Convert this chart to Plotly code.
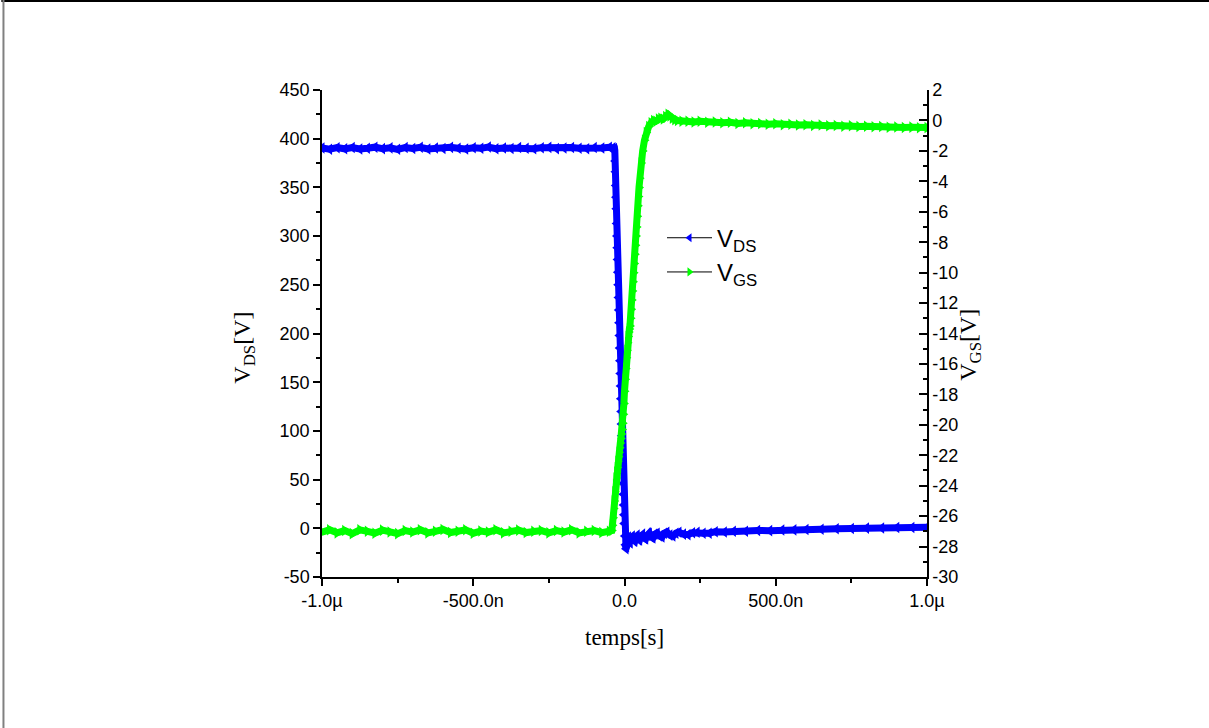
import plotly.graph_objects as go

# ---- data (time in ns) ----
t_vds = [-1000, -975, -950, -925, -900, -875, -850, -825, -800, -775, -750, -725, -700, -675, -650,
         -625, -600, -575, -550, -525, -500, -475, -450, -425, -400, -375, -350, -325, -300, -275,
         -250, -225, -200, -175, -150, -125, -100, -75, -50, -38, -33,
         -32, -31, -30, -29, -28, -27, -26, -25, -24, -23, -22, -21, -20, -19, -18, -17, -16, -15,
         -14, -13, -12, -11, -10, -9, -8, -7, -6, -5, -4, -3, -2, -1,
         1, 3, 5, 7, 10, 13, 16, 19, 22, 26, 30,
         34, 38, 42, 46, 50, 55, 60, 65, 70, 76, 82, 88, 94, 100, 108, 116, 124, 132, 140, 150, 160,
         170, 180, 195, 210, 225, 240, 260, 280, 300, 330, 360, 400, 440, 480, 520, 560, 600, 650,
         700, 750, 800, 850, 900, 950, 1000]
v_ds = [390.5, 389.2, 390.8, 389.6, 391.0, 389.4, 390.2, 391.3, 389.8, 390.6, 389.1, 390.9, 390.0,
        391.2, 389.5, 390.4, 389.9, 391.1, 390.3, 389.4, 390.7, 390.1, 391.4, 389.7, 390.5, 389.9,
        391.0, 390.2, 389.6, 390.8, 391.1, 389.8, 390.4, 391.0, 390.1, 389.7, 390.9, 390.5, 391.2,
        390.6, 390.0,
        388, 377, 366, 352, 340, 328, 313, 300, 288, 276, 263, 250, 237, 224, 211, 198, 185, 172,
        159, 146, 133, 120, 107, 95, 82, 70, 58, 46, 35, 24, 14, 5,
        -8, -17, -21, -19, -13, -9, -14, -15, -10, -8, -12, -13, -9, -7, -11, -12, -8, -6, -10, -11,
        -7, -5, -9, -10, -6, -5, -8, -9, -5, -4, -7, -8, -5, -4, -6, -6.5, -4.5, -4, -5, -5, -3.5,
        -3.8, -3, -3, -2.2, -2.4, -1.7, -1.6, -1.2, -1.0, -0.5, -0.3, 0.2, 0.3, 0.8, 0.9, 1.2]

t_vgs = [-1000, -975, -950, -925, -900, -875, -850, -825, -800, -775, -750, -725, -700, -675, -650,
         -625, -600, -575, -550, -525, -500, -475, -450, -425, -400, -375, -350, -325, -300, -275,
         -250, -225, -200, -175, -150, -125, -100, -75, -50, -42, -40, -38, -36, -34, -32, -30, -28,
         -26, -24, -22, -20, -18, -16, -14, -12, -10, -8, -6, -4, -2, 0, 2, 4, 6, 8, 10, 12, 14,
         16, 18, 20, 22, 24, 26, 28, 30, 32, 34, 36, 38, 40, 42, 44, 46, 48, 50, 55, 60, 66, 72,
         80, 88, 96, 104, 112, 120, 128, 136, 144, 150, 158, 166, 175, 190, 210, 230, 250, 275,
         300, 325, 350, 375, 400, 425, 450, 475, 500, 525, 550, 575, 600, 625, 650, 675, 700, 725,
         750, 775, 800, 825, 850, 875, 900, 925, 950, 975, 1000]
v_gs = [-27.05, -26.9, -27.1, -26.95, -27.15, -26.9, -27.0, -27.12, -26.92, -27.05, -27.15, -26.95,
        -27.05, -26.9, -27.1, -27.0, -26.88, -27.08, -27.0, -26.9, -27.12, -26.98, -27.05, -26.9,
        -27.1, -27.0, -26.92, -27.08, -27.0, -26.95, -27.1, -26.95, -27.05, -26.9, -27.1, -27.0,
        -26.95, -27.08, -27.0, -26.95, -26.6, -26.1, -25.5, -25.0, -24.4, -23.9, -23.5,
        -23.1, -22.8, -22.4, -22.1, -21.8, -21.5, -21.2, -20.9, -20.6, -20.3, -19.9, -19.3,
        -18.6, -17.8, -17.0, -16.3, -15.6, -15.1, -14.6, -14.2, -13.9, -13.7, -13.5, -13.0,
        -12.4, -11.8, -11.2, -10.6, -10.0, -9.4, -8.8, -8.2, -7.6, -7.0, -6.3, -5.6, -5.0, -4.4,
        -3.8, -2.8, -2.0, -1.3, -0.8, -0.4, -0.15, 0.0, -0.05, 0.1, 0.15, 0.1, 0.25,
        0.4, 0.3, 0.15, 0.05, 0.0, -0.05, -0.05, -0.1, -0.05, -0.12, -0.1, -0.15, -0.12, -0.2,
        -0.15, -0.22, -0.2, -0.25, -0.22, -0.28, -0.25, -0.3, -0.28, -0.33, -0.3, -0.35, -0.33,
        -0.38, -0.35, -0.4, -0.38, -0.42, -0.4, -0.45, -0.43, -0.47, -0.44, -0.48, -0.47]

x_tickvals = [-1000, -500, 0, 500, 1000]
x_ticktext = ["-1.0µ", "-500.0n", "0.0", "500.0n", "1.0µ"]
y1_tickvals = [-50, 0, 50, 100, 150, 200, 250, 300, 350, 400, 450]
y1_ticktext = ["-50", "0", "50", "100", "150", "200", "250", "300", "350", "400", "450"]
y2_tickvals = [-30, -28, -26, -24, -22, -20, -18, -16, -14, -12, -10, -8, -6, -4, -2, 0, 2]
y2_ticktext = ["-30", "-28", "-26", "-24", "-22", "-20", "-18", "-16", "-14", "-12", "-10",
               "-8", "-6", "-4", "-2", "0", "2"]

BLUE = "#0000FF"
GREEN = "#00FF00"
SANS = "Liberation Sans, Arial, sans-serif"
SERIF = "Liberation Serif, Times New Roman, serif"

fig = go.Figure()

fig.add_trace(go.Scatter(x=t_vds, y=v_ds, mode="lines+markers", showlegend=False,
                         line=dict(color=BLUE, width=7),
                         marker=dict(symbol="triangle-left", size=10, color=BLUE)))
fig.add_trace(go.Scatter(x=t_vgs, y=v_gs, mode="lines+markers", showlegend=False, yaxis="y2",
                         line=dict(color=GREEN, width=7),
                         marker=dict(symbol="triangle-right", size=10, color=GREEN)))

# legend-only entries
fig.add_trace(go.Scatter(x=[None], y=[None], mode="lines+markers", name="V<sub>DS</sub>",
                         line=dict(color="black", width=1),
                         marker=dict(symbol="triangle-left", size=8, color=BLUE)))
fig.add_trace(go.Scatter(x=[None], y=[None], mode="lines+markers", name="V<sub>GS</sub>",
                         line=dict(color="black", width=1),
                         marker=dict(symbol="triangle-right", size=8, color=GREEN)))

axis_common = dict(showgrid=False, zeroline=False, showline=True, linecolor="black",
                   linewidth=1.5, tickcolor="black", tickwidth=1.5,
                   tickfont=dict(family=SANS, size=18, color="black"))

fig.update_layout(
    width=1209, height=728,
    paper_bgcolor="white", plot_bgcolor="white",
    margin=dict(l=322, r=282, t=90, b=151),
    xaxis=dict(range=[-1000, 1000], tickmode="array", tickvals=x_tickvals, ticktext=x_ticktext,
               ticks="outside", ticklen=7,
               minor=dict(tickmode="linear", tick0=0, dtick=250, ticks="outside", ticklen=4,
                          tickcolor="black", tickwidth=1.5),
               **axis_common),
    yaxis=dict(range=[-50, 450], tickmode="array", tickvals=y1_tickvals, ticktext=y1_ticktext,
               ticks="outside", ticklen=7,
               minor=dict(tickmode="linear", tick0=0, dtick=25, ticks="outside", ticklen=4,
                          tickcolor="black", tickwidth=1.5),
               **axis_common),
    yaxis2=dict(range=[-30, 2], tickmode="array", tickvals=y2_tickvals, ticktext=y2_ticktext,
                overlaying="y", side="right", anchor="x",
                ticks="inside", ticklen=8,
                minor=dict(tickmode="linear", tick0=0, dtick=1, ticks="inside", ticklen=4,
                           tickcolor="black", tickwidth=1.5),
                **axis_common),
    legend=dict(x=0.562, y=0.742, xanchor="left", yanchor="top", bgcolor="rgba(0,0,0,0)",
                itemwidth=45,
                font=dict(family=SANS, size=24, color="black"), tracegroupgap=0),
    annotations=[
        dict(text="V<sub>DS</sub>[V]", xref="paper", yref="paper", x=-0.128, y=0.47,
             xanchor="center", yanchor="middle",
             textangle=-90, showarrow=False, font=dict(family=SERIF, size=24, color="black")),
        dict(text="V<sub>GS</sub>[V]", xref="paper", yref="paper", x=1.072, y=0.476,
             xanchor="center", yanchor="middle",
             textangle=-90, showarrow=False, font=dict(family=SERIF, size=24, color="black")),
        dict(text="temps[s]", xref="paper", yref="paper", x=0.5, y=-0.125,
             xanchor="center", yanchor="middle",
             showarrow=False, font=dict(family=SERIF, size=23, color="black")),
    ],
    shapes=[
        dict(type="line", xref="paper", yref="paper", x0=-0.53, x1=1.47, y0=1.183, y1=1.183,
             line=dict(color="black", width=2)),
        dict(type="line", xref="paper", yref="paper", x0=-0.5265, x1=-0.5265, y0=-0.32, y1=1.185,
             line=dict(color="gray", width=2)),
    ],
)

fig.write_html("out.html", config={"displayModeBar": False},
               post_script="document.body.style.margin='0';document.body.style.overflow='hidden';")
